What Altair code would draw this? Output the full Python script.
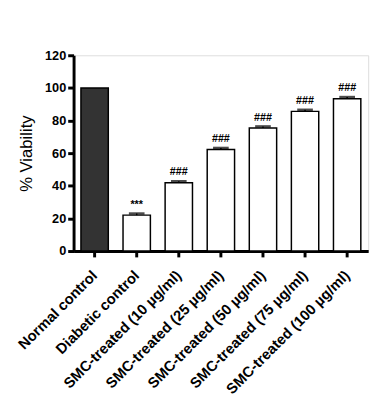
import altair as alt
import pandas as pd

groups = ["Normal control", "Diabetic control", "SMC-treated (10 µg/ml)",
          "SMC-treated (25 µg/ml)", "SMC-treated (50 µg/ml)",
          "SMC-treated (75 µg/ml)", "SMC-treated (100 µg/ml)"]
viability = [100, 22, 41.8, 62.2, 75.4, 85.6, 93.4]
sem = [0, 1.0, 1.0, 1.0, 1.0, 1.0, 1.0]
marks = ["", "***", "###", "###", "###", "###", "###"]
fills = ["#333333", "white", "white", "white", "white", "white", "white"]
yticks = [0, 20, 40, 60, 80, 100, 120]

df = pd.DataFrame({"group": groups, "v": viability, "sem": sem,
                   "mark": marks, "fill": fills})
df["top"] = df["v"] + df["sem"]

font = "Liberation Sans"
xaxis = alt.Axis(title=None, labelAngle=315, labelAlign="right",
                 labelBaseline="middle", labelFont=font,
                 labelFontSize=15, labelFontWeight="bold",
                 labelColor="black", domainColor="black",
                 domainWidth=3, tickColor="black", tickWidth=3,
                 tickSize=6, labelPadding=16, labelLimit=300,
                 labelOverlap=False)
yaxis = alt.Axis(title="% Viability", values=yticks, tickCount=7,
                 grid=False, labelFont=font, labelFontSize=13,
                 labelFontWeight="bold", labelColor="black",
                 domainColor="black", domainWidth=3,
                 tickColor="black", tickWidth=3, tickSize=6,
                 titleFont=font, titleFontSize=17,
                 titleFontWeight="normal", titleColor="black",
                 titlePadding=9, labelPadding=2, labelOverlap=False)
xscale = alt.Scale(paddingInner=0.35, paddingOuter=0.175)
yscale = alt.Scale(domain=[0, 120])

def X():
    return alt.X("group:N", sort=groups, scale=xscale, axis=xaxis)

bars = alt.Chart(df).mark_bar(stroke="black", strokeWidth=1.5).encode(
    x=X(),
    y=alt.Y("v:Q", scale=yscale, axis=yaxis),
    fill=alt.Fill("fill:N", scale=None),
)

err = alt.Chart(df[df["sem"] > 0]).mark_rule(color="black", strokeWidth=1.5).encode(
    x=X(), y=alt.Y("v:Q", scale=yscale, axis=yaxis), y2="top:Q")

caps = alt.Chart(df[df["sem"] > 0]).mark_tick(color="black", thickness=2.5, size=16).encode(
    x=X(), y=alt.Y("top:Q", scale=yscale, axis=yaxis))

txt = alt.Chart(df).mark_text(font=font, fontSize=11, fontWeight="bold", color="black",
                              baseline="bottom", dy=-4).encode(
    x=X(), y=alt.Y("top:Q", scale=yscale, axis=yaxis),
    text="mark:N")

chart = alt.layer(bars, err, caps, txt).properties(
    width=301, height=200,
    autosize=alt.AutoSizeParams(type="none"),
    padding={"left": 67, "top": 44, "right": 9, "bottom": 152},
).configure_view(stroke=None).configure(background="white")

chart.save("out.html", embed_options={"renderer": "svg", "actions": False})
